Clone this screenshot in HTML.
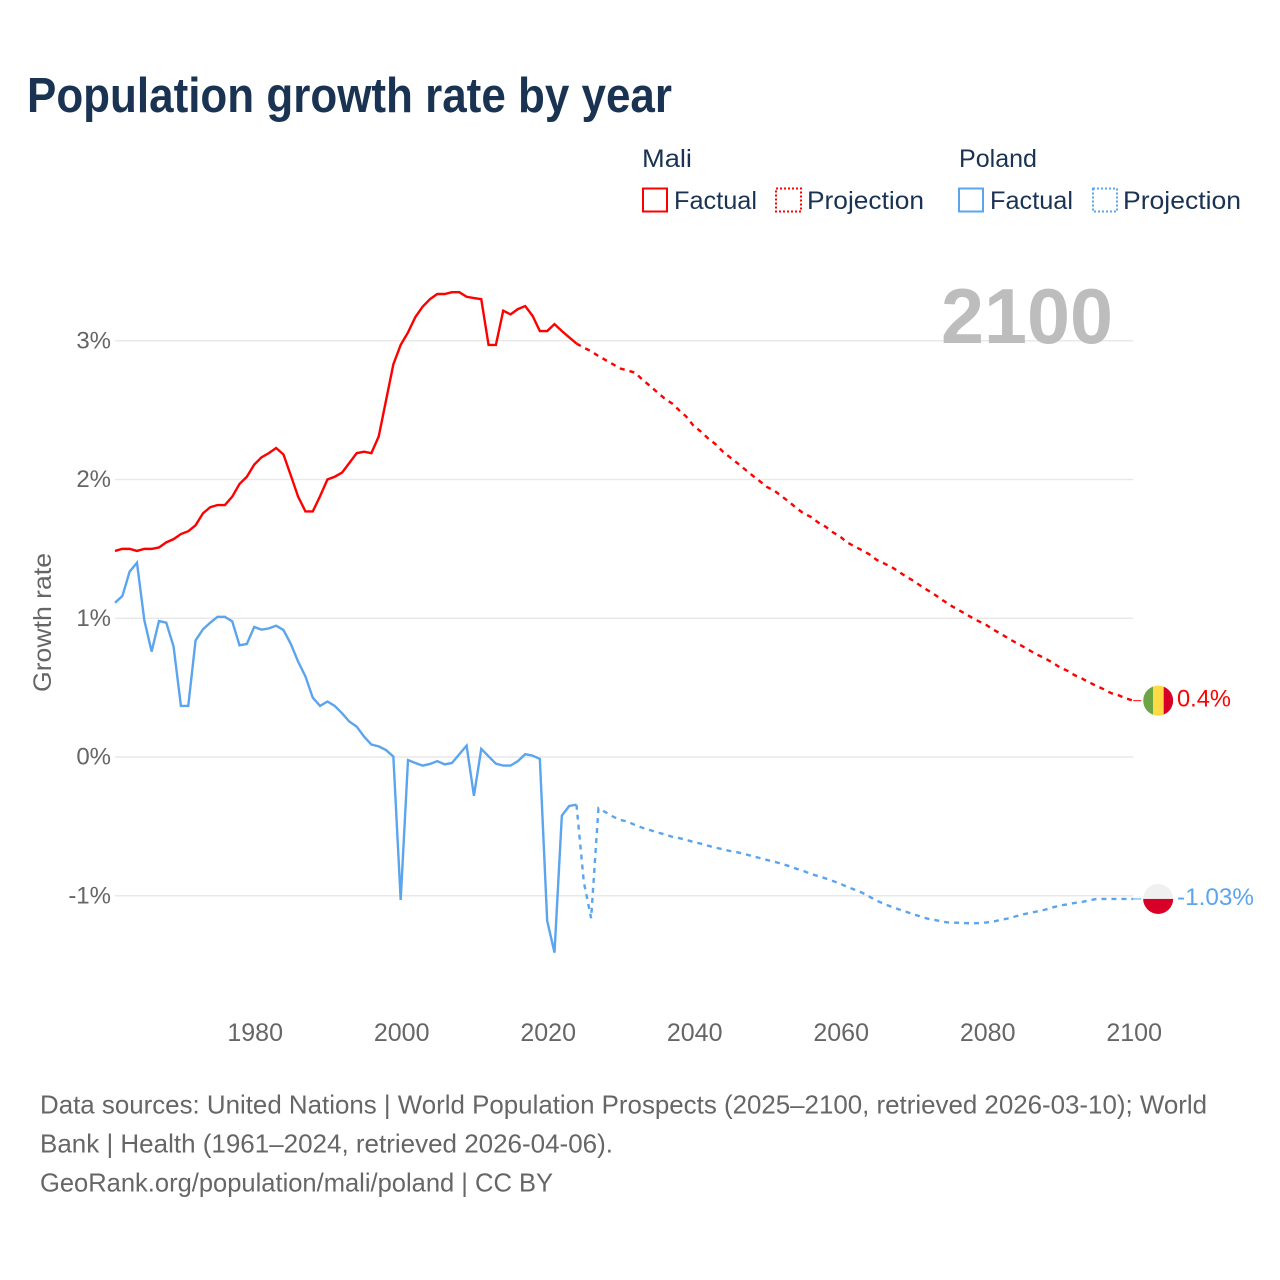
<!DOCTYPE html>
<html lang="en">
<head>
<meta charset="utf-8">
<title>Population growth rate by year</title>
<style>
html,body{margin:0;padding:0;background:#fff;width:1280px;height:1280px;overflow:hidden}
svg{display:block}
text{font-family:"Liberation Sans",sans-serif}
</style>
</head>
<body>
<svg id="chart" xmlns="http://www.w3.org/2000/svg" width="1280" height="1280" viewBox="0 0 1280 1280">
<defs><clipPath id="flag-clip"><circle cx="0" cy="0" r="15"/></clipPath></defs>
<rect width="1280" height="1280" fill="#fff"/>
<text x="27" y="112" font-size="49" font-weight="700" fill="#1a3353" textLength="645" lengthAdjust="spacingAndGlyphs">Population growth rate by year</text>

<g font-size="25" fill="#1a3353">
<text x="642" y="167" textLength="50" lengthAdjust="spacingAndGlyphs">Mali</text>
<text x="959" y="167" textLength="78" lengthAdjust="spacingAndGlyphs">Poland</text>
<rect x="643" y="188.5" width="24" height="23" fill="none" stroke="#ff0000" stroke-width="2"/>
<text x="674" y="209" textLength="83" lengthAdjust="spacingAndGlyphs">Factual</text>
<rect x="776" y="188.5" width="25" height="23" fill="none" stroke="#ff0000" stroke-width="2" stroke-dasharray="2 2"/>
<text x="807" y="209" textLength="117" lengthAdjust="spacingAndGlyphs">Projection</text>
<rect x="959" y="188.5" width="24" height="23" fill="none" stroke="#5ba4ee" stroke-width="2"/>
<text x="990" y="209" textLength="83" lengthAdjust="spacingAndGlyphs">Factual</text>
<rect x="1093" y="188.5" width="24" height="23" fill="none" stroke="#5ba4ee" stroke-width="2" stroke-dasharray="2 2"/>
<text x="1123" y="209" textLength="118" lengthAdjust="spacingAndGlyphs">Projection</text>
</g>

<g id="grid"></g>
<g id="y-ticks"></g>
<g id="x-ticks"></g>

<text x="941" y="343" font-size="78" font-weight="700" fill="#bdbdbd" textLength="172" lengthAdjust="spacingAndGlyphs">2100</text>
<text transform="translate(51,692) rotate(-90)" font-size="25" fill="#666" textLength="139" lengthAdjust="spacingAndGlyphs">Growth rate</text>

<g id="series"></g>

<g id="flag-mali" clip-path="url(#flag-clip)">
<rect x="-15" y="-16" width="10" height="32" fill="#6da544"/>
<rect x="-5" y="-16" width="10.5" height="32" fill="#ffda44"/>
<rect x="5.5" y="-16" width="10" height="32" fill="#d80027"/>
</g>
<g id="flag-poland" clip-path="url(#flag-clip)">
<rect x="-16" y="-16" width="32" height="16" fill="#f0f0f0"/>
<rect x="-16" y="0" width="32" height="16" fill="#d80027"/>
</g>
<text id="end-label-mali" x="1177" y="706" font-size="24" fill="#ff0000" textLength="54" lengthAdjust="spacingAndGlyphs"></text>
<text id="end-label-poland" x="1177" y="905" font-size="24" fill="#5ba4ee" textLength="77" lengthAdjust="spacingAndGlyphs"></text>

<g font-size="26" fill="#666">
<text x="40" y="1113.5" textLength="1167" lengthAdjust="spacingAndGlyphs">Data sources: United Nations | World Population Prospects (2025–2100, retrieved 2026-03-10); World</text>
<text x="40" y="1152.5" textLength="573" lengthAdjust="spacingAndGlyphs">Bank | Health (1961–2024, retrieved 2026-04-06).</text>
<text x="40" y="1191.5" textLength="513" lengthAdjust="spacingAndGlyphs">GeoRank.org/population/mali/poland | CC BY</text>
</g>
</svg>
<script>
const yTicks = [3, 2, 1, 0, -1];
const yTickLabels = ["3%", "2%", "1%", "0%", "-1%"];
const xTicks = [1980, 2000, 2020, 2040, 2060, 2080, 2100];
const xTickLabels = ["1980", "2000", "2020", "2040", "2060", "2080", "2100"];
const factualStartYear = 1961;
const projectionStartYear = 2024;
const maliEndLabel = "0.4%";
const polandEndLabel = "-1.03%";

const maliFactual = [1.485,1.50,1.50,1.485,1.50,1.50,1.51,1.547,1.57,1.607,1.627,1.67,1.756,1.80,1.816,1.816,1.876,1.968,2.02,2.107,2.16,2.19,2.227,2.18,2.03,1.876,1.77,1.77,1.88,2.0,2.02,2.05,2.12,2.19,2.2,2.19,2.31,2.57,2.83,2.97,3.06,3.17,3.246,3.30,3.337,3.337,3.35,3.35,3.317,3.308,3.30,2.97,2.97,3.217,3.19,3.228,3.25,3.18,3.07,3.07,3.12,3.07,3.025,2.98];
const maliProjection = [2.98,2.95,2.925,2.89,2.86,2.83,2.80,2.785,2.77,2.72,2.676,2.63,2.585,2.55,2.50,2.453,2.386,2.345,2.295,2.254,2.20,2.158,2.117,2.073,2.03,1.989,1.946,1.92,1.88,1.84,1.795,1.756,1.73,1.69,1.66,1.62,1.588,1.545,1.516,1.49,1.46,1.42,1.395,1.37,1.336,1.30,1.27,1.233,1.20,1.167,1.13,1.095,1.064,1.035,1.004,0.976,0.95,0.915,0.886,0.853,0.824,0.795,0.764,0.735,0.71,0.68,0.646,0.622,0.59,0.566,0.538,0.512,0.488,0.46,0.445,0.423,0.406];
const polandFactual = [1.112,1.16,1.336,1.40,0.987,0.76,0.98,0.968,0.795,0.368,0.368,0.84,0.92,0.968,1.01,1.01,0.978,0.805,0.815,0.937,0.918,0.927,0.946,0.915,0.815,0.687,0.58,0.428,0.368,0.40,0.368,0.315,0.255,0.219,0.147,0.09,0.077,0.05,0.003,-1.03,-0.022,-0.043,-0.062,-0.05,-0.03,-0.053,-0.043,0.02,0.082,-0.28,0.058,0.005,-0.048,-0.062,-0.062,-0.03,0.02,0.01,-0.014,-1.18,-1.41,-0.423,-0.353,-0.344];
const polandProjection = [-0.344,-0.90,-1.162,-0.37,-0.399,-0.43,-0.454,-0.466,-0.49,-0.51,-0.526,-0.543,-0.557,-0.574,-0.584,-0.598,-0.613,-0.625,-0.64,-0.653,-0.666,-0.678,-0.687,-0.70,-0.714,-0.728,-0.742,-0.755,-0.769,-0.786,-0.805,-0.822,-0.843,-0.858,-0.875,-0.894,-0.913,-0.937,-0.957,-0.978,-1.007,-1.035,-1.06,-1.079,-1.098,-1.115,-1.134,-1.15,-1.166,-1.175,-1.187,-1.194,-1.194,-1.197,-1.199,-1.197,-1.192,-1.185,-1.173,-1.163,-1.148,-1.134,-1.122,-1.112,-1.10,-1.084,-1.071,-1.062,-1.052,-1.045,-1.033,-1.023,-1.023,-1.023,-1.023,-1.023,-1.023];

const NS = "http://www.w3.org/2000/svg";
function xScale(year) { return 115 + (year - 1961) * 7.325; }
function yScale(value) { return 757 - value * 138.75; }
const plotLeft = xScale(1961);
const plotRight = xScale(2100);

function pathFrom(values, startYear) {
  return values.map(function (v, i) {
    return (i ? "L" : "M") + xScale(startYear + i).toFixed(2) + " " + yScale(v).toFixed(2);
  }).join(" ");
}

const grid = document.getElementById("grid");
yTicks.forEach(function (t) {
  const line = document.createElementNS(NS, "line");
  
  
  line.setAttribute("x1", plotLeft);
  line.setAttribute("x2", plotRight);
  line.setAttribute("y1", yScale(t));
  line.setAttribute("y2", yScale(t));
  line.setAttribute("stroke", "#e9e9e9");
  line.setAttribute("stroke-width", "1.5");
  grid.appendChild(line);
});

const yGroup = document.getElementById("y-ticks");
yTicks.forEach(function (t, i) {
  const label = document.createElementNS(NS, "text");
  
  
  label.setAttribute("x", 111);
  label.setAttribute("y", yScale(t) + 7.5);
  label.setAttribute("text-anchor", "end");
  label.setAttribute("font-size", "24");
  label.setAttribute("fill", "#666");
  label.textContent = yTickLabels[i];
  yGroup.appendChild(label);
});

const xGroup = document.getElementById("x-ticks");
xTicks.forEach(function (t, i) {
  const label = document.createElementNS(NS, "text");
  
  
  label.setAttribute("x", xScale(t) + 1);
  label.setAttribute("y", 1041);
  label.setAttribute("text-anchor", "middle");
  label.setAttribute("font-size", "25");
  label.setAttribute("fill", "#666");
  label.textContent = xTickLabels[i];
  xGroup.appendChild(label);
});

const seriesGroup = document.getElementById("series");

const maliFactualLine = document.createElementNS(NS, "path");


maliFactualLine.setAttribute("d", pathFrom(maliFactual, factualStartYear));
maliFactualLine.setAttribute("fill", "none");
maliFactualLine.setAttribute("stroke", "#ff0000");
maliFactualLine.setAttribute("stroke-width", "2.4");
seriesGroup.appendChild(maliFactualLine);

const maliProjectionLine = document.createElementNS(NS, "path");


maliProjectionLine.setAttribute("d", pathFrom(maliProjection, projectionStartYear));
maliProjectionLine.setAttribute("fill", "none");
maliProjectionLine.setAttribute("stroke", "#ff0000");
maliProjectionLine.setAttribute("stroke-width", "2.4");
maliProjectionLine.setAttribute("stroke-dasharray", "5 5");
seriesGroup.appendChild(maliProjectionLine);

const polandFactualLine = document.createElementNS(NS, "path");


polandFactualLine.setAttribute("d", pathFrom(polandFactual, factualStartYear));
polandFactualLine.setAttribute("fill", "none");
polandFactualLine.setAttribute("stroke", "#5ba4ee");
polandFactualLine.setAttribute("stroke-width", "2.4");
seriesGroup.appendChild(polandFactualLine);

const polandProjectionLine = document.createElementNS(NS, "path");


polandProjectionLine.setAttribute("d", pathFrom(polandProjection, projectionStartYear));
polandProjectionLine.setAttribute("fill", "none");
polandProjectionLine.setAttribute("stroke", "#5ba4ee");
polandProjectionLine.setAttribute("stroke-width", "2.4");
polandProjectionLine.setAttribute("stroke-dasharray", "5 5");
seriesGroup.appendChild(polandProjectionLine);

const maliEndY = yScale(maliProjection[maliProjection.length - 1]);
const polandEndY = yScale(polandProjection[polandProjection.length - 1]);

const maliConnector = document.createElementNS(NS, "line");


maliConnector.setAttribute("x1", plotRight);
maliConnector.setAttribute("x2", plotRight + 8);
maliConnector.setAttribute("y1", maliEndY);
maliConnector.setAttribute("y2", maliEndY);
maliConnector.setAttribute("stroke", "#ff0000");
maliConnector.setAttribute("stroke-width", "1");
seriesGroup.appendChild(maliConnector);

const polandConnector = document.createElementNS(NS, "line");


polandConnector.setAttribute("x1", plotRight);
polandConnector.setAttribute("x2", plotRight + 8);
polandConnector.setAttribute("y1", polandEndY);
polandConnector.setAttribute("y2", polandEndY);
polandConnector.setAttribute("stroke", "#5ba4ee");
polandConnector.setAttribute("stroke-width", "1");
seriesGroup.appendChild(polandConnector);

const flagX = plotRight + 25;
document.getElementById("flag-mali").setAttribute("transform", "translate(" + flagX + "," + maliEndY + ")");
document.getElementById("flag-poland").setAttribute("transform", "translate(" + flagX + "," + polandEndY + ")");

const maliLabel = document.getElementById("end-label-mali");
maliLabel.setAttribute("y", maliEndY + 6);
maliLabel.textContent = maliEndLabel;
const polandLabel = document.getElementById("end-label-poland");
polandLabel.setAttribute("y", polandEndY + 6);
polandLabel.textContent = polandEndLabel;
</script>
</body>
</html>
